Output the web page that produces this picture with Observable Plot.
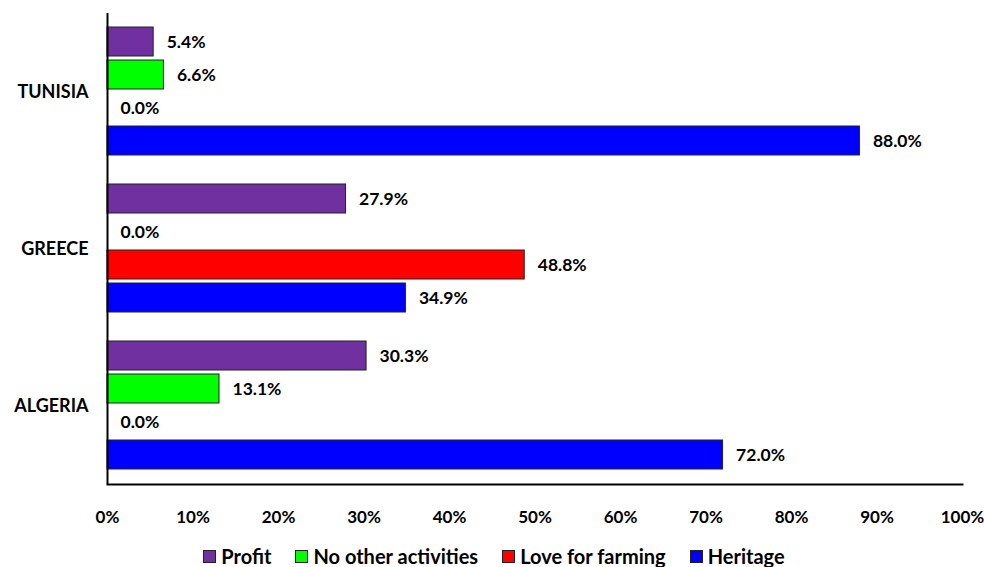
<!DOCTYPE html>
<html>
<head>
<meta charset="utf-8">
<script src="https://cdn.jsdelivr.net/npm/d3@7"></script>
<script src="https://cdn.jsdelivr.net/npm/@observablehq/plot@0.6"></script>
<style>
  body { margin: 0; background: #fff; font-family: Lato, "Open Sans", sans-serif; }
  #legend { display: flex; justify-content: center; gap: 24px; margin-top: 15px; font-weight: bold; font-size: 20px; line-height: 22px; color: #000; padding-left: 4px; }
  #legend .item { display: flex; align-items: center; gap: 5px; }
  #legend .sw { width: 11px; height: 11px; border: 1px solid #222; }
  svg g[aria-label="fy-axis tick label"] text { font-size: 18px; }
</style>
</head>
<body>
<div id="chart"></div>
<div id="legend"></div>
<script>
const countries = ["TUNISIA", "GREECE", "ALGERIA"];
const series = ["Profit", "No other activities", "Love for farming", "Heritage"];
const colors = ["#7030A0", "#00FF00", "#FF0000", "#0000FF"];
const tunisia = [5.4, 6.6, 0.0, 88.0];
const greece = [27.9, 0.0, 48.8, 34.9];
const algeria = [30.3, 13.1, 0.0, 72.0];
const xTicks = [0, 10, 20, 30, 40, 50, 60, 70, 80, 90, 100];

const byCountry = { TUNISIA: tunisia, GREECE: greece, ALGERIA: algeria };
const data = countries.flatMap(c => series.map((s, i) => ({ country: c, series: s, value: byCountry[c][i] })));

const chart = Plot.plot({
  width: 984,
  height: 530,
  marginLeft: 107,
  marginRight: 22,
  marginTop: 12,
  marginBottom: 45,
  style: { fontFamily: "Lato, 'Open Sans', sans-serif", fontWeight: "bold", fontSize: "17px", color: "#000", background: "#fff" },
  x: { domain: [0, 100], ticks: xTicks, tickFormat: d => d + "%", tickSize: 0, tickPadding: 26, label: null },
  y: { domain: series, paddingInner: 0.11, paddingOuter: 0.43, axis: null },
  fy: { domain: countries, padding: 0, axis: "left", tickSize: 0, tickPadding: 19, label: null },
  color: { domain: series, range: colors },
  marks: [
    Plot.barX(data, { x: "value", y: "series", fy: "country", fill: "series", stroke: "#222", strokeWidth: 1 }),
    Plot.text(data, { x: "value", y: "series", fy: "country", text: d => d.value.toFixed(1) + "%", textAnchor: "start", dx: 13, fontSize: 17.5, fontWeight: "bold", fill: "#000" }),
    Plot.ruleX([0], { stroke: "#000", strokeWidth: 2 }),
    Plot.frame({ anchor: "bottom", facetAnchor: "bottom", stroke: "#000", strokeWidth: 2 })
  ]
});
document.getElementById("chart").appendChild(chart);

const legend = document.getElementById("legend");
series.forEach((s, i) => {
  const item = document.createElement("div");
  item.className = "item";
  const sw = document.createElement("span");
  sw.className = "sw";
  sw.style.background = colors[i];
  const t = document.createElement("span");
  t.textContent = s;
  item.appendChild(sw);
  item.appendChild(t);
  legend.appendChild(item);
});
</script>
</body>
</html>
